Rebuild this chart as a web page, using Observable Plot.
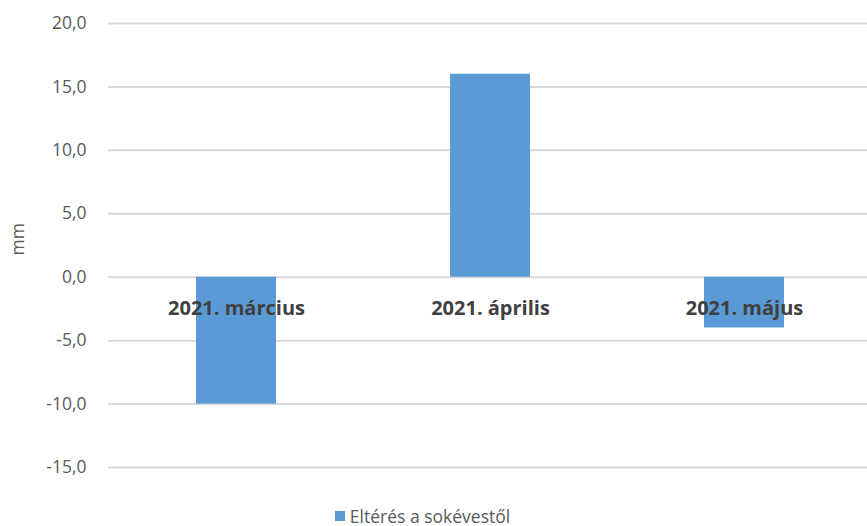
<!DOCTYPE html>
<html>
<head>
<meta charset="utf-8">
<script src="https://cdn.jsdelivr.net/npm/d3@7"></script>
<script src="https://cdn.jsdelivr.net/npm/@observablehq/plot@0.6"></script>
<style>
  body { margin: 0; background: #fff; font-family: "Open Sans", sans-serif; overflow: hidden; width: 867px; }
  #legend { height: 21px; display: flex; justify-content: center; align-items: center; font-size: 17.5px; color: #595959; width: 867px; padding-right: 22px; box-sizing: border-box; }
  #legend .sw { width: 10px; height: 10px; background: #5b9bd5; margin-right: 5px; }
</style>
</head>
<body>
<div id="chart"></div>
<div id="legend"><span class="sw"></span><span>Eltérés a sokévestől</span></div>
<script>
const categories = ["2021. március", "2021. április", "2021. május"];
const values = [-10, 16, -4];
const yTicks = [-15, -10, -5, 0, 5, 10, 15, 20];
const seriesName = "Eltérés a sokévestől";

const data = categories.map((c, i) => ({category: c, value: values[i]}));
const fmt = d => d.toFixed(1).replace(".", ",");

const chart = Plot.plot({
  width: 867,
  height: 505,
  marginTop: 23,
  marginBottom: 38,
  marginLeft: 108,
  marginRight: 0,
  style: {fontFamily: "Open Sans, sans-serif", background: "#fff"},
  x: {domain: categories, padding: 0, axis: null, range: [108, 872]},
  y: {domain: [-15, 20], ticks: yTicks},
  marks: [
    Plot.gridY(yTicks, {stroke: "#d9d9d9", strokeOpacity: 1, strokeWidth: 2}),
    Plot.barY(data, {x: "category", y: "value", fill: "#5b9bd5", insetLeft: 87, insetRight: 87}),
    Plot.axisY({ticks: yTicks, tickFormat: fmt, tickSize: 0, tickPadding: 22, fontSize: 17.5, color: "#595959", fill: "#595959",
      label: null}),
    Plot.text(["mm"], {frameAnchor: "left", dx: -90, dy: 10, rotate: -90, fontSize: 17.5, fill: "#595959"}),
    Plot.text(data, {x: "category", y: () => 0, text: "category", dy: 31, fontSize: 20, fontWeight: "bold", fill: "#404040", letterSpacing: "0.3px"})
  ]
});
document.getElementById("chart").appendChild(chart);
</script>
</body>
</html>
